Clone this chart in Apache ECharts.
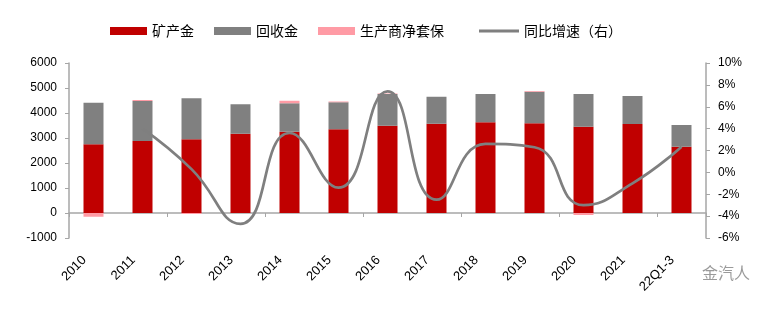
<!DOCTYPE html>
<html><head><meta charset="utf-8">
<script src="https://cdn.jsdelivr.net/npm/echarts@6/dist/echarts.min.js"></script>
<style>html,body{margin:0;padding:0;background:#fff}#c{width:766px;height:312px}</style>
</head><body><div id="c"></div>
<script>
var categories = ['2010','2011','2012','2013','2014','2015','2016','2017','2018','2019','2020','2021','22Q1-3'];
var mineGold   = [2750, 2880, 2950, 3170, 3250, 3350, 3490, 3570, 3630, 3590, 3450, 3560, 2650];
var recycled   = [1660, 1600, 1640, 1180, 1140, 1080, 1270, 1080, 1130, 1260, 1310, 1120, 870];
var hedging    = [-150, 40, -40, 0, 100, 30, 20, 0, 0, 30, -80, 0, 0];
var yoyGrowth  = [null, 4.0, 0.3, -4.7, 3.6, -1.4, 7.4, -2.5, 2.6, 2.3, -3.0, -1.0, 2.35];
var leftTicks  = {min: -1000, max: 6000, interval: 1000};
var rightTicks = {min: -6, max: 10, interval: 2};

var chart = echarts.init(document.getElementById('c'), null, {renderer: 'canvas'});
var axisGray = '#a6a6a6';
var lblFont = {color: '#000', fontFamily: 'Liberation Sans, Arial', fontSize: 12};
var legText = {fontFamily: 'Noto Sans CJK SC', fontSize: 14, color: '#000'};
chart.setOption({
  animation: false,
  textStyle: {fontFamily: 'Liberation Sans, Arial'},
  legend: [
    {top: 19, left: 105,
     itemWidth: 37, itemHeight: 8, itemGap: 20, textStyle: legText,
     data: [
       {name: '矿产金', icon: 'rect'},
       {name: '回收金', icon: 'rect'},
       {name: '生产商净套保', icon: 'rect'}
     ]},
    {top: 19, left: 474,
     itemWidth: 40, itemHeight: 8, textStyle: legText,
     data: [{name: '同比增速（右）', icon: 'path://M0,3.5H40V6.5H0Z'}]}
  ],
  grid: {left: 69, right: 60, top: 63, bottom: 74},
  xAxis: [
    {type: 'category', data: categories, position: 'bottom',
     axisLine: {onZero: true, onZeroAxisIndex: 0, lineStyle: {color: axisGray, width: 1.5}},
     axisTick: {show: true, length: 4, lineStyle: {color: axisGray}},
     axisLabel: {show: false}},
    {type: 'category', data: categories, position: 'bottom',
     axisLine: {show: false, onZero: false}, axisTick: {show: false},
     axisLabel: Object.assign({}, lblFont, {rotate: 45, margin: 11, interval: 0, fontSize: 13, padding: [0, 13, 0, 0]})}
  ],
  yAxis: [
    {type: 'value', min: leftTicks.min, max: leftTicks.max, interval: leftTicks.interval,
     axisLine: {show: true, lineStyle: {color: axisGray, width: 1.5}},
     axisTick: {show: true, length: 4, lineStyle: {color: axisGray}},
     splitLine: {show: false},
     axisLabel: Object.assign({margin: 12, formatter: function (v) { return String(v); }}, lblFont)},
    {type: 'value', min: rightTicks.min, max: rightTicks.max, interval: rightTicks.interval,
     axisLine: {show: true, lineStyle: {color: axisGray, width: 1.5}},
     axisTick: {show: true, length: 4, lineStyle: {color: axisGray}},
     splitLine: {show: false},
     axisLabel: Object.assign({margin: 12, formatter: '{value}%'}, lblFont)}
  ],
  series: [
    {name: '矿产金', type: 'bar', stack: 's', barWidth: 20, data: mineGold,
     itemStyle: {color: '#c00000'}},
    {name: '回收金', type: 'bar', stack: 's', barWidth: 20, data: recycled,
     itemStyle: {color: '#808080'}},
    {name: '生产商净套保', type: 'bar', stack: 's', barWidth: 20, data: hedging,
     itemStyle: {color: '#ff9ba5'}},
    {name: '同比增速（右）', type: 'line', yAxisIndex: 1, data: yoyGrowth,
     smooth: 0.5, symbol: 'none', connectNulls: false, z: 5,
     lineStyle: {color: '#7f7f7f', width: 2.7}, itemStyle: {color: '#7f7f7f'}}
  ],
  graphic: [
    {type: 'text', left: 702, top: 265, z: 10,
     style: {text: '金汽人', fill: '#9a9a9a', font: '16px "Noto Sans CJK SC"'}}
  ]
});
</script></body></html>
